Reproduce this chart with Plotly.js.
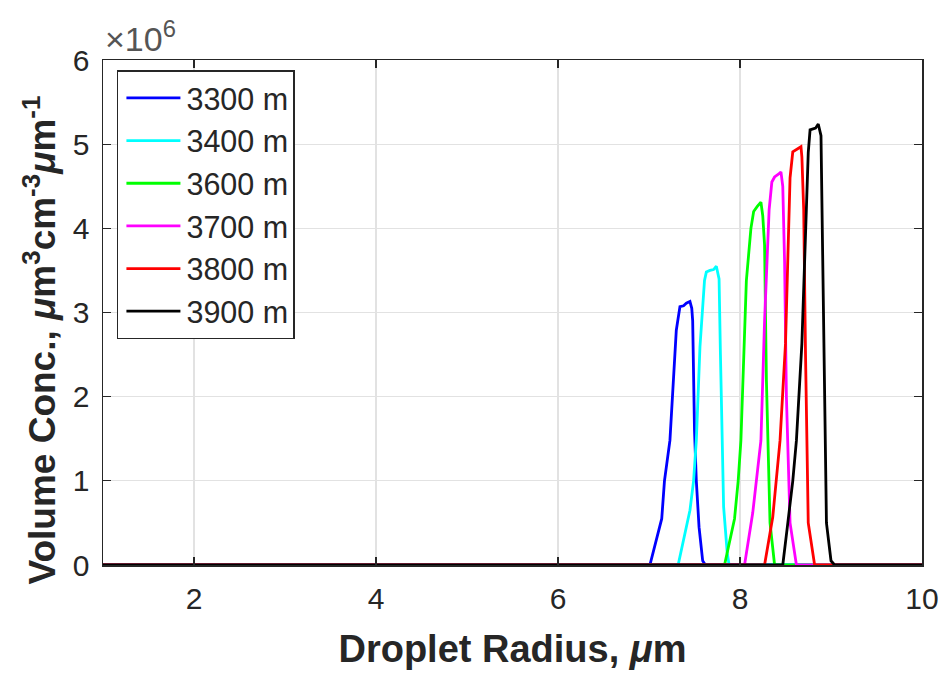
<!DOCTYPE html>
<html>
<head>
<meta charset="utf-8">
<script src="https://cdn.plot.ly/plotly-3.0.1.min.js"></script>
<style>html,body{margin:0;padding:0;background:#fff;}#chart{width:942px;height:673px;}</style>
</head>
<body>
<div id="chart"></div>
<script>
// Values in units of 10^6 µm^3 cm^-3 µm^-1
const names = ["3300 m", "3400 m", "3600 m", "3700 m", "3800 m", "3900 m"];
const colors = ["#0000ff", "#00ffff", "#00ff00", "#ff00ff", "#ff0000", "#000000"];

const x3300 = [1, 7.01, 7.14, 7.17, 7.23, 7.30, 7.34, 7.38, 7.41, 7.45, 7.47, 7.48, 7.50, 7.52, 7.55, 7.59, 7.62, 10];
const y3300 = [0, 0, 0.55, 1.0, 1.48, 2.79, 3.07, 3.08, 3.11, 3.13, 3.05, 2.9, 1.6, 1.0, 0.45, 0.05, 0, 0];

const x3400 = [1, 7.32, 7.45, 7.49, 7.52, 7.56, 7.61, 7.63, 7.67, 7.71, 7.74, 7.77, 7.785, 7.80, 7.82, 7.86, 7.88, 10];
const y3400 = [0, 0, 0.65, 1.0, 1.48, 2.59, 3.38, 3.48, 3.50, 3.51, 3.55, 3.4, 2.5, 1.5, 0.69, 0.14, 0, 0];

const x3600 = [1, 7.83, 7.94, 7.98, 8.01, 8.07, 8.12, 8.15, 8.19, 8.23, 8.25, 8.27, 8.29, 8.31, 8.33, 8.38, 10];
const y3600 = [0, 0, 0.55, 1.0, 1.48, 3.38, 4.0, 4.2, 4.26, 4.31, 4.15, 3.8, 2.2, 1.3, 0.5, 0, 0];

const x3700 = [1, 8.05, 8.14, 8.20, 8.23, 8.27, 8.32, 8.35, 8.38, 8.43, 8.45, 8.47, 8.49, 8.51, 8.53, 8.55, 8.62, 10];
const y3700 = [0, 0, 0.62, 1.25, 1.48, 2.9, 4.22, 4.55, 4.61, 4.65, 4.67, 4.5, 3.6, 2.0, 1.2, 0.5, 0, 0];

const x3800 = [1, 8.27, 8.36, 8.42, 8.44, 8.50, 8.55, 8.58, 8.64, 8.67, 8.68, 8.70, 8.72, 8.74, 8.75, 8.82, 10];
const y3800 = [0, 0, 0.57, 1.25, 1.48, 2.63, 4.6, 4.91, 4.95, 4.97, 4.85, 4.22, 2.5, 1.3, 0.5, 0, 0];

const x3900 = [1, 8.47, 8.52, 8.58, 8.62, 8.68, 8.75, 8.77, 8.83, 8.86, 8.89, 8.91, 8.93, 8.95, 9.00, 9.04, 10];
const y3900 = [0, 0, 0.45, 1.0, 1.48, 2.63, 4.9, 5.17, 5.19, 5.24, 5.1, 3.6, 1.6, 0.5, 0.05, 0, 0];

const xTickVals = [2, 4, 6, 8, 10];
const yTickVals = [0, 1, 2, 3, 4, 5, 6];

const xs = [x3300, x3400, x3600, x3700, x3800, x3900];
const ys = [y3300, y3400, y3600, y3700, y3800, y3900];

const FONT = "Liberation Sans, Arial, Helvetica, sans-serif";
const TXT = "#262626";

const traces = names.map((n, i) => ({
  type: "scatter", mode: "lines", name: n,
  x: xs[i], y: ys[i],
  line: {color: colors[i], width: 2.8}
}));

const axisCommon = {
  showline: true, linecolor: "#262626", linewidth: 1.5, mirror: "allticks",
  ticks: "inside", ticklen: 8, tickwidth: 1.2, tickcolor: "#262626",
  showgrid: true, gridcolor: "#e2e2e2", gridwidth: 1.2,
  zeroline: false,
  ticklabelstandoff: 6,
  tickfont: {family: FONT, size: 30, color: TXT}
};

const layout = {
  width: 942, height: 673,
  margin: {l: 103, r: 20, t: 60, b: 108},
  paper_bgcolor: "#fff", plot_bgcolor: "#fff",
  showlegend: true,
  xaxis: Object.assign({}, axisCommon, {
    range: [1, 10], tickvals: xTickVals, ticktext: xTickVals.map(String),
    title: {text: "Droplet Radius, <i>μ</i>m", font: {family: FONT, size: 38, color: TXT, weight: "bold"}, standoff: 22}
  }),
  yaxis: Object.assign({}, axisCommon, {
    range: [0, 6], tickvals: yTickVals, ticktext: yTickVals.map(String)
  }),
  legend: {
    x: 0.017, y: 0.98, xanchor: "left", yanchor: "top",
    bgcolor: "#fff", bordercolor: "#262626", borderwidth: 1.5,
    font: {family: FONT, size: 30.5, color: TXT},
    itemwidth: 58,
    tracegroupgap: 0
  },
  annotations: [{
    xref: "paper", yref: "paper", x: 0, y: 1, xanchor: "left", yanchor: "bottom",
    text: "×10<sup>6</sup>", showarrow: false,
    font: {family: FONT, size: 34, color: "#555555"}, yshift: 0
  }, {
    xref: "paper", yref: "paper", x: 0, y: 0.5, xanchor: "center", yanchor: "middle",
    xshift: -63, yshift: -28, textangle: -90, showarrow: false,
    text: "Volume Conc., <i>μ</i>m<sup>3</sup>cm<sup>-3</sup><i>μ</i>m<sup>-1</sup>",
    font: {family: FONT, size: 37, color: TXT, weight: "bold"}
  }]
};

Plotly.newPlot("chart", traces, layout, {displayModeBar: false, staticPlot: true}).then(gd => {
  // lengthen the legend line samples to match the reference
  gd.querySelectorAll(".legend .legendlines path").forEach(p => p.setAttribute("d", "M8,0h54"));
});
</script>
</body>
</html>
